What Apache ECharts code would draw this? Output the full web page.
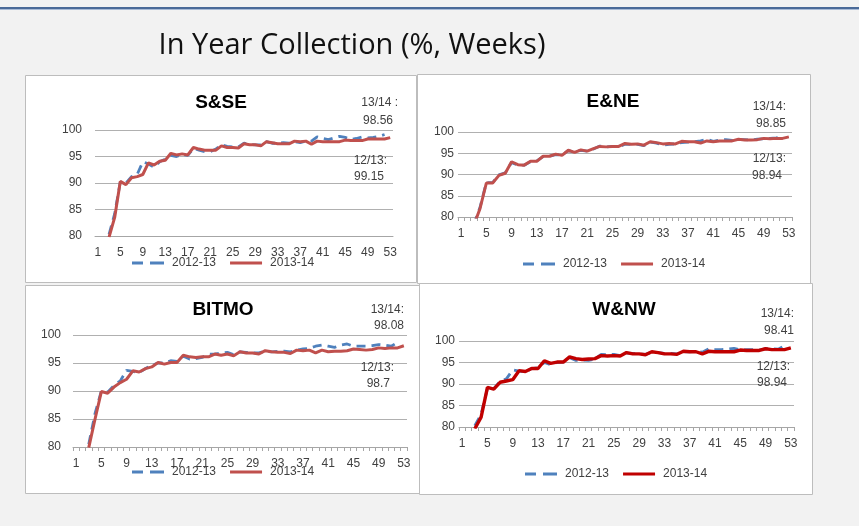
<!DOCTYPE html>
<html>
<head>
<meta charset="utf-8">
<script src="https://cdn.jsdelivr.net/npm/echarts@6/dist/echarts.min.js"></script>
<style>
  html, body { margin: 0; padding: 0; background: #f2f2f2; }
  #chart { width: 859px; height: 526px; }
</style>
</head>
<body>
<div id="chart"></div>
<script>
(function () {
  'use strict';

  const weeks = [1, 2, 3, 4, 5, 6, 7, 8, 9, 10, 11, 12, 13, 14, 15, 16, 17, 18, 19, 20, 21, 22, 23, 24, 25, 26,
    27, 28, 29, 30, 31, 32, 33, 34, 35, 36, 37, 38, 39, 40, 41, 42, 43, 44, 45, 46, 47, 48, 49, 50, 51, 52, 53];
  const seriesNames = ['2012-13', '2013-14'];
  const regions = ['S&SE', 'E&NE', 'BITMO', 'W&NW'];
  const finalLabels = [
    ['13/14 :', '98.56', '12/13:', '99.15'],
    ['13/14:', '98.85', '12/13:', '98.94'],
    ['13/14:', '98.08', '12/13:', '98.7'],
    ['13/14:', '98.41', '12/13:', '98.94'],
  ];

  const sse1213 = [null, null, 80.3, 84.2, 90.2, 90.0, 91.2, 91.6, 94.0, 93.6, 93.0, 94.0, 94.5, 95.2, 95.0, 95.4, 95.2, 96.5,
    96.2, 95.9, 95.9, 96.4, 97.2, 96.9, 96.8, 96.8, 97.5, 97.3, 97.2, 97.2, 97.8, 97.5, 97.5, 97.6, 97.5, 97.8, 97.6, 97.9,
    97.9, 98.7, 98.4, 98.2, 98.5, 98.8, 98.6, 98.2, 98.4, 98.7, 98.5, 98.6, 98.8, 99.15, null];
  const sse1314 = [null, null, 79.8, 83.5, 90.3, 89.7, 91.0, 91.2, 91.6, 93.8, 93.4, 94.1, 94.3, 95.6, 95.3, 95.5, 95.3, 96.7,
    96.4, 96.2, 96.2, 96.2, 97.0, 96.7, 96.7, 96.6, 97.4, 97.2, 97.2, 97.0, 97.8, 97.6, 97.4, 97.4, 97.4, 97.9, 97.8, 97.9,
    97.3, 97.9, 97.8, 97.8, 97.8, 97.8, 98.1, 98.0, 98.0, 98.0, 98.3, 98.3, 98.3, 98.3, 98.56];

  const ene1213 = [null, null, 78.2, 82.3, 88.1, 88.1, 89.9, 90.4, 92.8, 92.2, 92.2, 93.0, 93.2, 94.2, 94.3, 94.7, 94.6, 95.6,
    95.3, 95.7, 95.5, 96.0, 96.7, 96.5, 96.6, 96.5, 97.1, 97.1, 97.1, 96.8, 97.6, 97.4, 96.9, 97.1, 97.2, 97.5, 97.6, 97.7,
    97.9, 98.3, 97.8, 98.1, 98.2, 98.0, 98.2, 98.2, 98.1, 98.3, 98.4, 98.5, 98.6, 98.94, null];
  const ene1314 = [null, null, 78.0, 82.0, 88.0, 88.0, 89.8, 90.3, 93.0, 92.3, 92.2, 93.1, 93.1, 94.3, 94.3, 94.8, 94.5, 95.7,
    95.2, 95.8, 95.5, 96.1, 96.6, 96.5, 96.6, 96.6, 97.3, 97.1, 97.2, 96.9, 97.7, 97.5, 97.2, 97.3, 97.2, 97.8, 97.7, 97.7,
    97.4, 97.9, 97.7, 97.9, 97.9, 97.9, 98.3, 98.1, 98.1, 98.2, 98.5, 98.4, 98.5, 98.5, 98.85];

  const bitmo1213 = [null, null, 80.5, 86.0, 90.0, 89.8, 91.0, 91.8, 93.7, 93.5, 93.3, 94.0, 94.6, 95.0, 95.0, 95.4, 95.3, 96.2,
    95.7, 95.8, 96.0, 96.6, 96.6, 96.8, 96.9, 96.5, 97.0, 96.9, 96.8, 96.8, 97.1, 97.0, 97.1, 97.1, 97.0, 97.3, 97.5, 97.6,
    98.0, 98.2, 98.0, 97.8, 98.2, 98.4, 98.0, 98.0, 98.0, 98.1, 98.3, 98.2, 98.0, 98.7, null];
  const bitmo1314 = [null, null, 79.9, 85.0, 89.9, 89.6, 90.7, 91.5, 92.1, 93.6, 93.4, 94.0, 94.3, 95.1, 94.8, 95.1, 95.1, 96.4,
    96.1, 96.0, 96.1, 96.1, 96.6, 96.4, 96.6, 96.3, 97.0, 96.8, 96.8, 96.6, 97.2, 97.0, 96.9, 96.9, 96.7, 97.3, 97.2, 97.3,
    96.8, 97.3, 97.0, 97.1, 97.1, 97.2, 97.5, 97.4, 97.3, 97.4, 97.7, 97.6, 97.7, 97.7, 98.08];

  const wnw1213 = [null, null, 80.3, 83.0, 89.0, 88.9, 90.6, 91.2, 93.3, 93.0, 92.8, 93.6, 93.8, 95.0, 94.5, 95.0, 95.1, 96.1,
    95.5, 95.6, 95.5, 95.8, 96.9, 96.8, 96.9, 96.6, 97.2, 97.1, 97.0, 96.9, 97.4, 97.3, 97.1, 97.1, 97.0, 97.5, 97.5, 97.6,
    97.4, 98.2, 98.0, 98.0, 98.1, 98.3, 97.9, 98.0, 98.0, 97.9, 98.2, 98.2, 98.1, 98.94, null];
  const wnw1314 = [null, null, 79.6, 82.3, 89.2, 88.8, 90.4, 90.7, 91.0, 93.1, 92.9, 93.6, 93.6, 95.4, 94.8, 95.1, 95.1, 96.3,
    95.9, 95.7, 95.8, 95.9, 96.6, 96.5, 96.6, 96.5, 97.3, 97.0, 97.0, 96.8, 97.5, 97.3, 97.0, 97.0, 96.9, 97.6, 97.5, 97.5,
    97.0, 97.6, 97.5, 97.5, 97.5, 97.5, 97.9, 97.8, 97.8, 97.8, 98.2, 98.0, 98.0, 98.0, 98.41];

  const data1213 = [sse1213, ene1213, bitmo1213, wnw1213];
  const data1314 = [sse1314, ene1314, bitmo1314, wnw1314];

  // layout of the four boxes (pixels)
  const boxes = [
    { x: 25, y: 75, w: 391, h: 207 },
    { x: 417, y: 74, w: 393, h: 209 },
    { x: 25, y: 285, w: 395, h: 208 },
    { x: 419, y: 283, w: 393, h: 211 },
  ];
  const grids = [
    { left: 95, top: 130, width: 298, height: 106, labelMargin: 13, ticks: false },
    { left: 458, top: 132, width: 334, height: 85, labelMargin: 4, ticks: true },
    { left: 73, top: 335, width: 334, height: 112, labelMargin: 12, ticks: true },
    { left: 459, top: 341, width: 335, height: 86, labelMargin: 4, ticks: true },
  ];
  const titlePos = [[221, 103], [613, 102], [223, 310], [624, 310]];
  const notePos = [
    [[398, 103], [393, 121], [387, 161], [384, 177]],
    [[786, 107], [786, 124], [786, 159], [782, 176]],
    [[404, 310], [404, 326], [394, 368], [390, 384]],
    [[794, 314], [794, 331], [790, 367], [787, 383]],
  ];
  const legendPos = [[132, 257], [523, 258], [132, 466], [525, 468]];

  const blue = '#4f81bd';
  const red = ['#c0504d', '#c0504d', '#c0504d', '#c00000'];
  const redWidth = [3, 3, 3, 3.4];
  const font = '"Liberation Sans", Arial, sans-serif';
  const textColor = '#404040';
  const dashIcon = 'path://M0,0h11v3h-11z M18,0h14v3h-14z';
  const solidIcon = 'path://M0,0h32v3h-32z';

  const chart = echarts.init(document.getElementById('chart'));

  const graphic = [];
  graphic.push({ type: 'rect', shape: { x: 0, y: 7, width: 859, height: 2 }, style: { fill: '#4a6a98' }, z: 0 });
  graphic.push({ type: 'rect', shape: { x: 0, y: 9, width: 859, height: 1 }, style: { fill: '#a9bbd6' }, z: 0 });
  graphic.push({
    type: 'text', z: 10,
    style: {
      text: 'In Year Collection (%, Weeks)', x: 352, y: 46, align: 'center', verticalAlign: 'middle',
      font: '29px "Open Sans", sans-serif', fill: '#111',
    },
  });

  boxes.forEach((b) => {
    graphic.push({
      type: 'rect', z: -10, silent: true,
      shape: { x: b.x + 0.5, y: b.y + 0.5, width: b.w, height: b.h },
      style: { fill: '#fff', stroke: '#bdbdbd', lineWidth: 1 },
    });
  });

  regions.forEach((name, i) => {
    graphic.push({
      type: 'text', z: 10,
      style: {
        text: name, x: titlePos[i][0], y: titlePos[i][1], align: 'center', verticalAlign: 'middle',
        font: 'bold 19px ' + font, fill: '#000',
      },
    });
    finalLabels[i].forEach((t, j) => {
      graphic.push({
        type: 'text', z: 10,
        style: {
          text: t, x: notePos[i][j][0], y: notePos[i][j][1], align: 'right', verticalAlign: 'middle',
          font: '12px ' + font, fill: textColor,
        },
      });
    });
  });

  const xAxis = grids.map((g, i) => ({
    type: 'category',
    gridIndex: i,
    data: weeks,
    boundaryGap: true,
    axisLine: { lineStyle: { color: '#a6a6a6', width: 1 } },
    axisTick: { show: g.ticks, interval: 0, length: 4, lineStyle: { color: '#a6a6a6' } },
    axisLabel: { interval: 3, color: textColor, fontSize: 12, fontFamily: font, margin: 11 },
    splitLine: { show: false },
  }));

  const yAxis = grids.map((g, i) => ({
    type: 'value',
    gridIndex: i,
    min: 80,
    max: 100,
    interval: 5,
    axisLine: { show: false },
    axisTick: { show: false },
    axisLabel: { color: textColor, fontSize: 12, fontFamily: font, margin: g.labelMargin },
    splitLine: { lineStyle: { color: '#b0b0b0', width: 1 } },
  }));

  const series = [];
  grids.forEach((g, i) => {
    series.push({
      name: seriesNames[0], type: 'line', xAxisIndex: i, yAxisIndex: i,
      data: data1213[i], symbol: 'none', z: 2,
      lineStyle: { color: blue, width: 2.8, type: [9, 6] },
      itemStyle: { color: blue },
    });
    series.push({
      name: seriesNames[1], type: 'line', xAxisIndex: i, yAxisIndex: i,
      data: data1314[i], symbol: 'none', z: 3,
      lineStyle: { color: red[i], width: redWidth[i] },
      itemStyle: { color: red[i] },
    });
  });

  const legend = legendPos.map((p, i) => ({
    left: p[0], top: p[1], padding: 0,
    itemWidth: 32, itemHeight: 3, itemGap: 14,
    textStyle: { color: textColor, fontSize: 12, fontFamily: font, padding: [0, 0, 0, 3] },
    data: [
      { name: seriesNames[0], icon: dashIcon, itemStyle: { color: blue } },
      { name: seriesNames[1], icon: solidIcon, itemStyle: { color: red[i] } },
    ],
  }));

  chart.setOption({
    backgroundColor: '#f2f2f2',
    animation: false,
    grid: grids.map((g) => ({ left: g.left, top: g.top, width: g.width, height: g.height })),
    xAxis,
    yAxis,
    legend,
    series,
    graphic,
  });
})();
</script>
</body>
</html>
